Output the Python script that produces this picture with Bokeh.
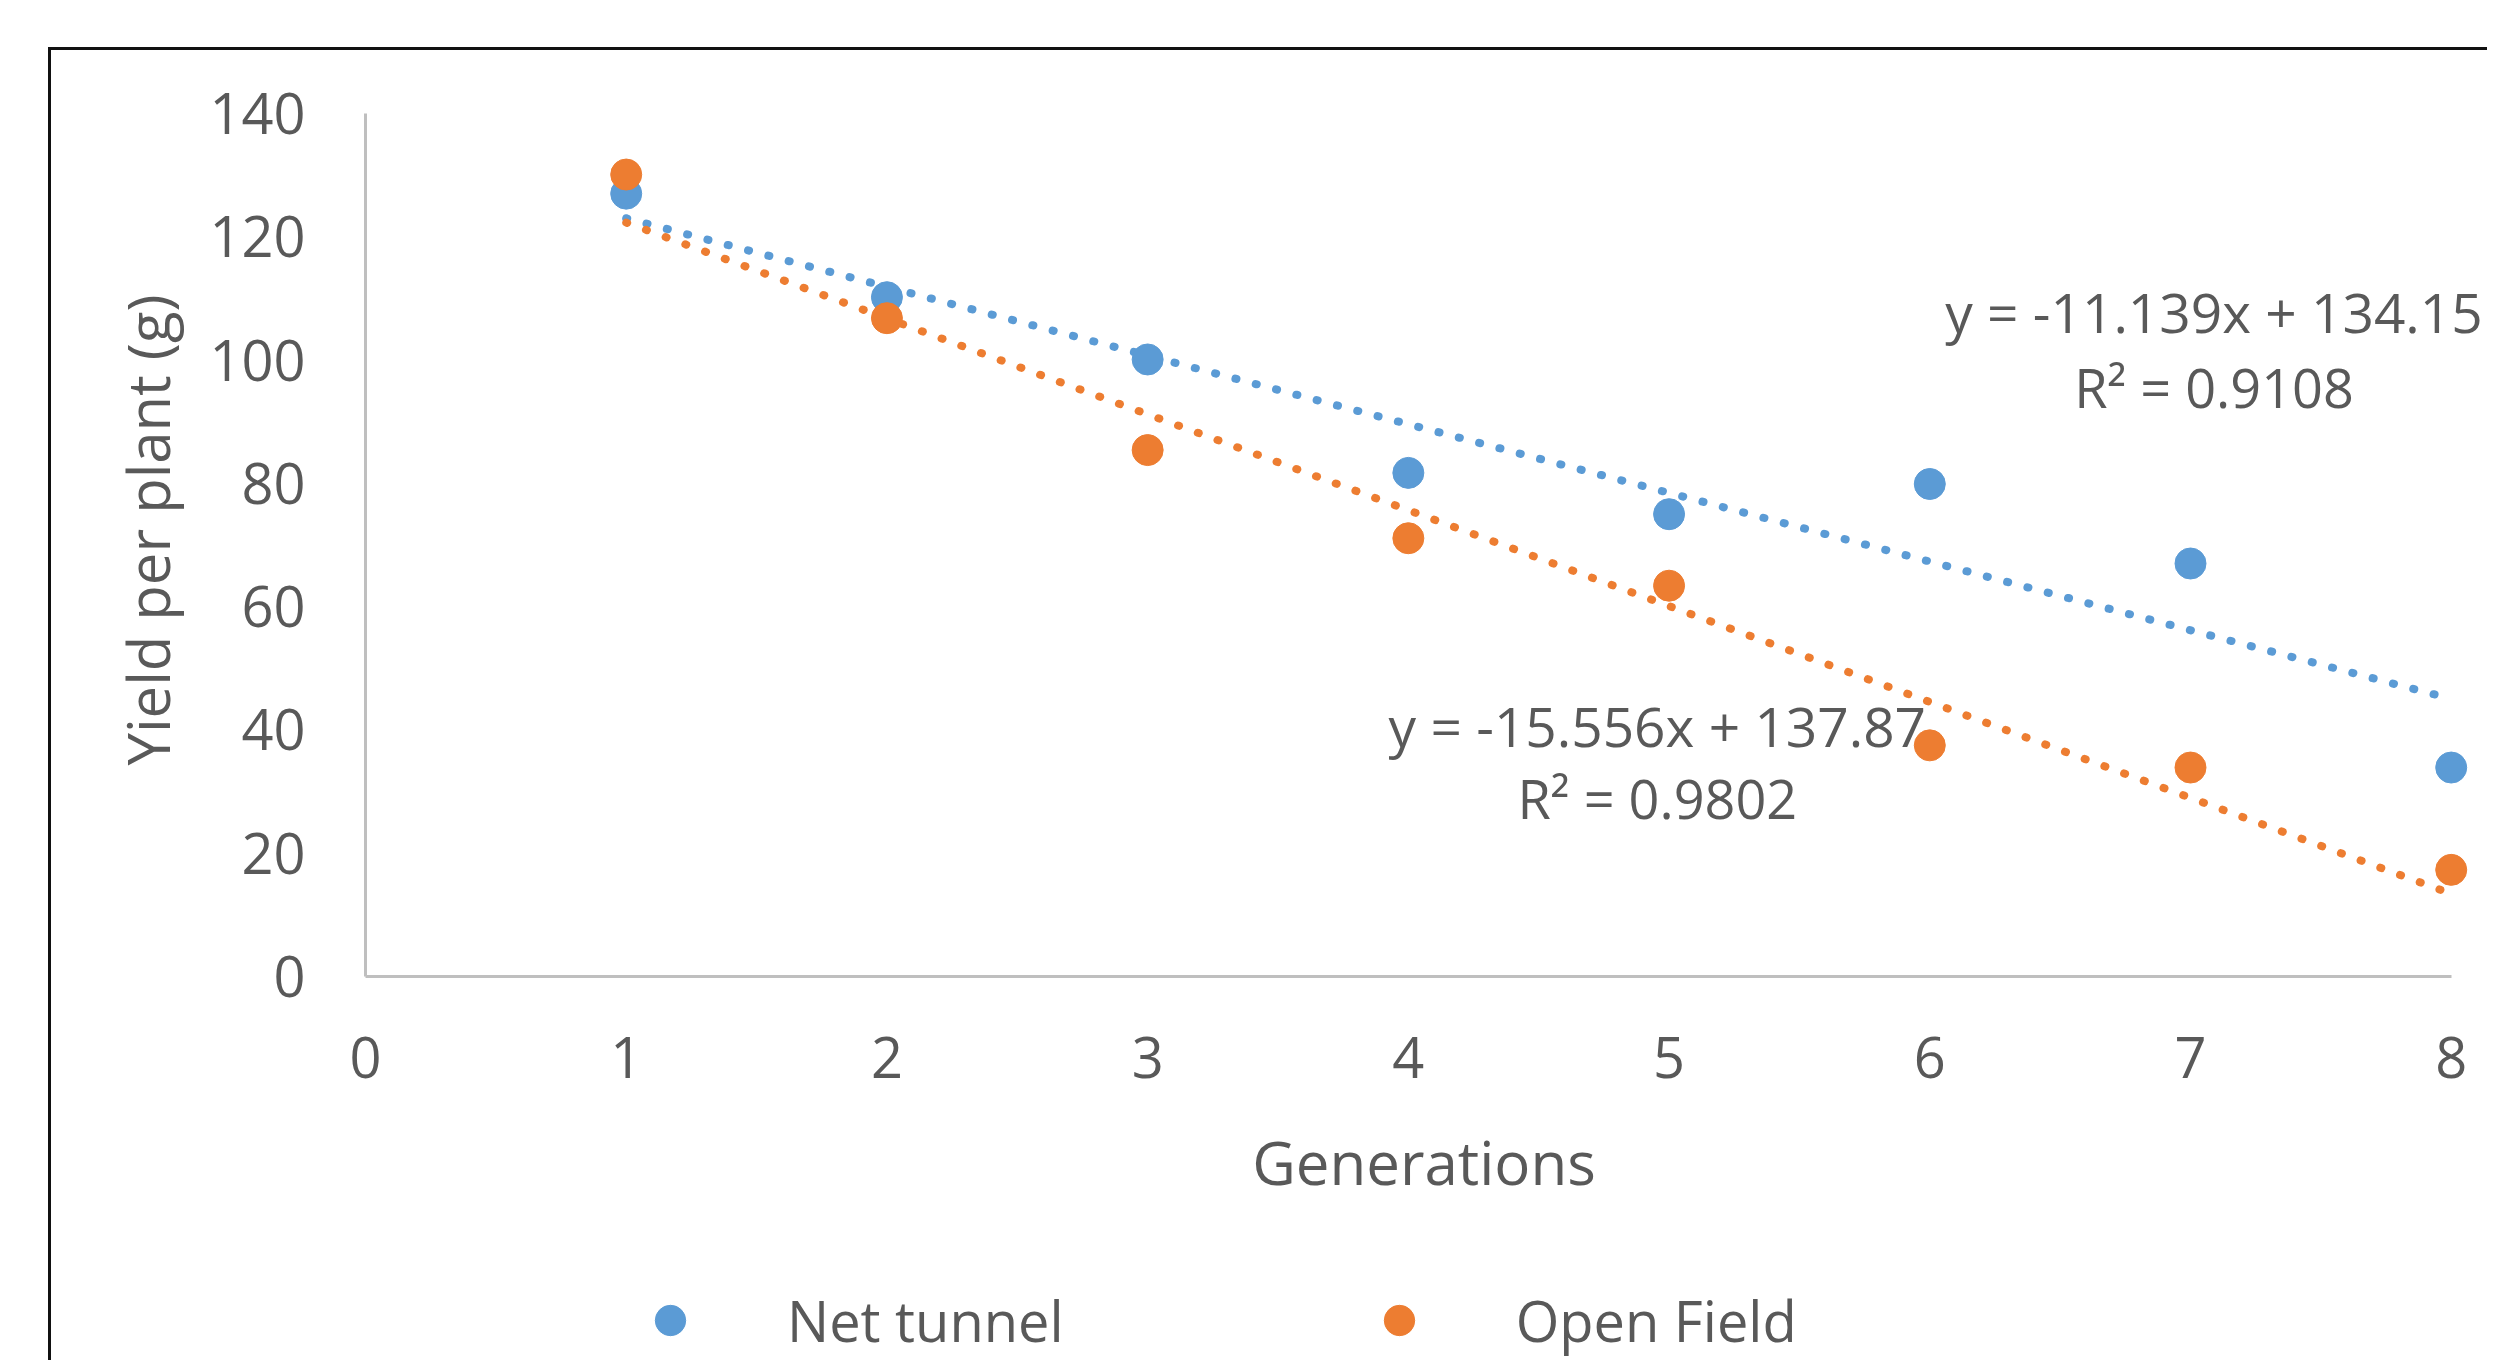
from bokeh.plotting import figure
from bokeh.layouts import column
from bokeh.models import Range1d, Label, Legend, LegendItem, FixedTicker, ColumnDataSource
from bokeh.embed import file_html
from bokeh.resources import INLINE

# ---- data ----
generations = [1, 2, 3, 4, 5, 6, 7, 8]
net_tunnel = [127.0, 110.2, 100.1, 81.7, 75.0, 79.9, 67.0, 33.9]
open_field = [130.1, 106.8, 85.4, 71.1, 63.4, 37.5, 33.9, 17.3]
series_names = ["Net tunnel", "Open Field"]
trend_slopes = [-11.139, -15.556]
trend_intercepts = [134.15, 137.87]
trend_r2 = ["0.9108", "0.9802"]
x_ticks = [0, 1, 2, 3, 4, 5, 6, 7, 8]
y_ticks = [0, 20, 40, 60, 80, 100, 120, 140]

BLUE = "#5B9BD5"
ORANGE = "#ED7D31"
TEXT = "#595959"
FONT = "Open Sans"
colors = [BLUE, ORANGE]

W, H1, H2 = 2436, 1205, 105
p = figure(width=W, height=H1, output_backend="svg", toolbar_location=None,
           x_range=Range1d(0, 8.12), y_range=Range1d(0, 144.87),
           min_border_left=314, min_border_right=5, min_border_top=33,
           min_border_bottom=H1 - 926)
p.outline_line_color = None
p.xgrid.grid_line_color = None
p.ygrid.grid_line_color = None
p.background_fill_color = "white"
p.border_fill_color = "white"

for ax in (p.xaxis[0], p.yaxis[0]):
    ax.axis_line_color = "#BFBFBF"
    ax.axis_line_width = 3
    ax.major_tick_line_color = None
    ax.minor_tick_line_color = None
    ax.major_tick_out = 0
    ax.major_tick_in = 0
    ax.minor_tick_out = 0
    ax.minor_tick_in = 0
    ax.major_label_text_font = FONT
    ax.major_label_text_font_size = "56px"
    ax.major_label_text_color = TEXT
    ax.axis_label_text_font = FONT
    ax.axis_label_text_color = TEXT
    ax.axis_label_text_font_style = "normal"

p.xaxis.ticker = FixedTicker(ticks=x_ticks)
p.yaxis.ticker = FixedTicker(ticks=y_ticks)
p.xaxis.bounds = (x_ticks[0], x_ticks[-1])
p.yaxis.bounds = (y_ticks[0], y_ticks[-1])
p.xaxis.axis_label = "Generations"
p.yaxis.axis_label = "Yield per plant (g)"
p.xaxis.axis_label_text_font_size = "60px"
p.yaxis.axis_label_text_font_size = "58px"
p.yaxis.major_label_standoff = 60
p.yaxis.axis_label_standoff = 19
p.xaxis.major_label_standoff = 60
p.xaxis.axis_label_standoff = 40

# trendlines
for i in range(2):
    xs = [generations[0], generations[-1]]
    ys = [trend_slopes[i] * x + trend_intercepts[i] for x in xs]
    p.line(xs, ys, line_color=colors[i], line_width=8, line_dash="1 20",
           line_cap="round")

src_nt = ColumnDataSource(dict(x=generations, y=net_tunnel))
src_of = ColumnDataSource(dict(x=generations, y=open_field))
p.scatter("x", "y", source=src_nt, size=31, fill_color=BLUE, line_color=BLUE)
p.scatter("x", "y", source=src_of, size=31, fill_color=ORANGE, line_color=ORANGE)

# equation labels
label_pos = [((7.09, 107.9), (7.09, 95.7)), ((4.955, 40.7), (4.955, 29.0))]
for i in range(2):
    eq = f"y = {trend_slopes[i]}x + {trend_intercepts[i]}"
    r2 = f"R² = {trend_r2[i]}"
    for (px, py), t, fs in zip(label_pos[i], [eq, r2], ["55px", "54px"]):
        p.add_layout(Label(x=px, y=py, text=t, text_align="center",
                           text_baseline="middle", text_font=FONT,
                           text_font_size=fs, text_color=TEXT))

# legend strip (separate figure below the chart; its ranges show no data,
# the series renderers there only feed the legend swatches)
p2 = figure(width=W, height=H2, output_backend="svg", toolbar_location=None,
            x_axis_type=None, y_axis_type=None, x_range=Range1d(-2, -1),
            y_range=Range1d(-2, -1), min_border_left=0, min_border_right=0,
            min_border_top=0, min_border_bottom=0)
p2.outline_line_color = None
p2.xgrid.grid_line_color = None
p2.ygrid.grid_line_color = None
p2.background_fill_color = "white"
p2.border_fill_color = "white"
leg_nt = p2.scatter("x", "y", source=src_nt, size=31,
                    fill_color=BLUE, line_color=BLUE)
leg_of = p2.scatter("x", "y", source=src_of, size=31,
                    fill_color=ORANGE, line_color=ORANGE)
legend = Legend(items=[LegendItem(label=series_names[0], renderers=[leg_nt]),
                       LegendItem(label=series_names[1], renderers=[leg_of])],
                orientation="horizontal", location=(267, 2),
                glyph_width=76, glyph_height=76, label_standoff=79,
                spacing=297, padding=0, margin=0,
                label_text_font=FONT, label_text_font_size="56px",
                label_text_color=TEXT, border_line_color=None,
                background_fill_alpha=0)
p2.add_layout(legend, "center")

layout = column(p, p2, spacing=0, margin=(47, 0, 0, 48),
                styles={"border-left": "3px solid #111111",
                        "border-top": "3px solid #111111"})

open("out.html", "w").write(file_html(layout, INLINE))
